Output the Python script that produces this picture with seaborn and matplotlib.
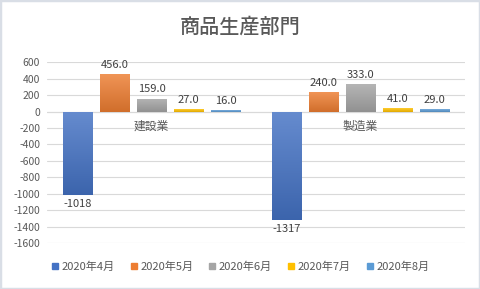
import numpy as np
import pandas as pd
import matplotlib
matplotlib.use("Agg")
import matplotlib.pyplot as plt
from matplotlib.colors import LinearSegmentedColormap, to_rgb
from matplotlib.patches import Rectangle
from matplotlib.lines import Line2D
import seaborn as sns

categories = ["建設業", "製造業"]
months = ["2020年4月", "2020年5月", "2020年6月", "2020年7月", "2020年8月"]
apr = [-1018, -1317]
may = [456, 240]
jun = [159, 333]
jul = [27, 41]
aug = [16, 29]
label_fmt = ["{:.0f}", "{:.1f}", "{:.1f}", "{:.1f}", "{:.1f}"]
colors = ["#4472C4", "#ED7D31", "#A5A5A5", "#FFC000", "#5B9BD5"]
yticks = list(range(-1600, 601, 200))
title = "商品生産部門"

series = [apr, may, jun, jul, aug]
rows = []
for m, vals in zip(months, series):
    for c, v in zip(categories, vals):
        rows.append({"cat": c, "month": m, "val": v})
df = pd.DataFrame(rows)

sns.set_theme(style="white")
plt.rcParams["font.family"] = ["Noto Sans CJK JP", "DejaVu Sans"]

fig = plt.figure(figsize=(4.8, 2.89), dpi=100)
ax = fig.add_axes([47/480, 1-243/289, 418/480, (243-62.3)/289])

sns.barplot(data=df, x="cat", y="val", hue="month", hue_order=months,
            order=categories, palette=colors, width=0.885, gap=0.19,
            ax=ax, legend=False, saturation=1, edgecolor="none", linewidth=0)

ax.set_ylim(-1600, 600)
ax.set_yticks(yticks)
ax.set_yticklabels([str(t) for t in yticks], fontsize=7.5, color="#595959")
ax.set_xlim(-0.5, 1.5)
ax.set_xticks([])
ax.set_xlabel("")
ax.set_ylabel("")
ax.tick_params(axis="y", length=0, pad=5)
for s in ax.spines.values():
    s.set_visible(False)
ax.yaxis.grid(True, color="#D9D9D9", linewidth=0.8)
ax.set_axisbelow(True)
ax.axhline(0, color="#D9D9D9", linewidth=0.8, zorder=1)

def lighten(c, f):
    r = np.array(to_rgb(c))
    return tuple(r + (1 - r) * f)
def darken(c, f):
    r = np.array(to_rgb(c))
    return tuple(r * (1 - f))

for ci, cont in enumerate(ax.containers):
    base = colors[ci]
    cmap = LinearSegmentedColormap.from_list("g", [darken(base, 0.12), lighten(base, 0.18)])
    for patch in cont:
        x0, y0 = patch.get_x(), patch.get_y()
        w, h = patch.get_width(), patch.get_height()
        ylo, yhi = min(y0, y0 + h), max(y0, y0 + h)
        grad = np.linspace(0, 1, 100).reshape(-1, 1)
        im = ax.imshow(grad, cmap=cmap, origin="lower", aspect="auto",
                       extent=[x0, x0 + w, ylo, yhi], zorder=2)
        im.set_clip_path(patch)
    labels = [label_fmt[ci].format(v) for v in series[ci]]
    ax.bar_label(cont, labels=labels, fontsize=8, color="#404040", padding=3)

ax.set_xlim(-0.5, 1.5)
ax.set_ylim(-1600, 600)

for i, c in enumerate(categories):
    ax.annotate(c, xy=(i, 0), xytext=(0, -6), textcoords="offset points",
                ha="center", va="top", fontsize=8.5, color="#595959")

fig.suptitle(title, x=0.5, y=1-27/289, va="center", fontsize=14.5,
             color="#595959", fontweight="medium")

handles = [Line2D([], [], marker="s", linestyle="none", markersize=4.5,
                  markerfacecolor=c, markeredgecolor=c) for c in colors]
fig.legend(handles, months, loc="center", bbox_to_anchor=(0.5, 1-267/289),
           ncol=5, frameon=False, fontsize=8, handletextpad=0.2,
           columnspacing=1.3, handlelength=0.8, labelcolor="#595959")

fig.patches.append(Rectangle((0, 0), 1, 1, transform=fig.transFigure,
                             fill=False, edgecolor="#D9DEE6", linewidth=2.5))

fig.savefig("out.png", dpi=100)
